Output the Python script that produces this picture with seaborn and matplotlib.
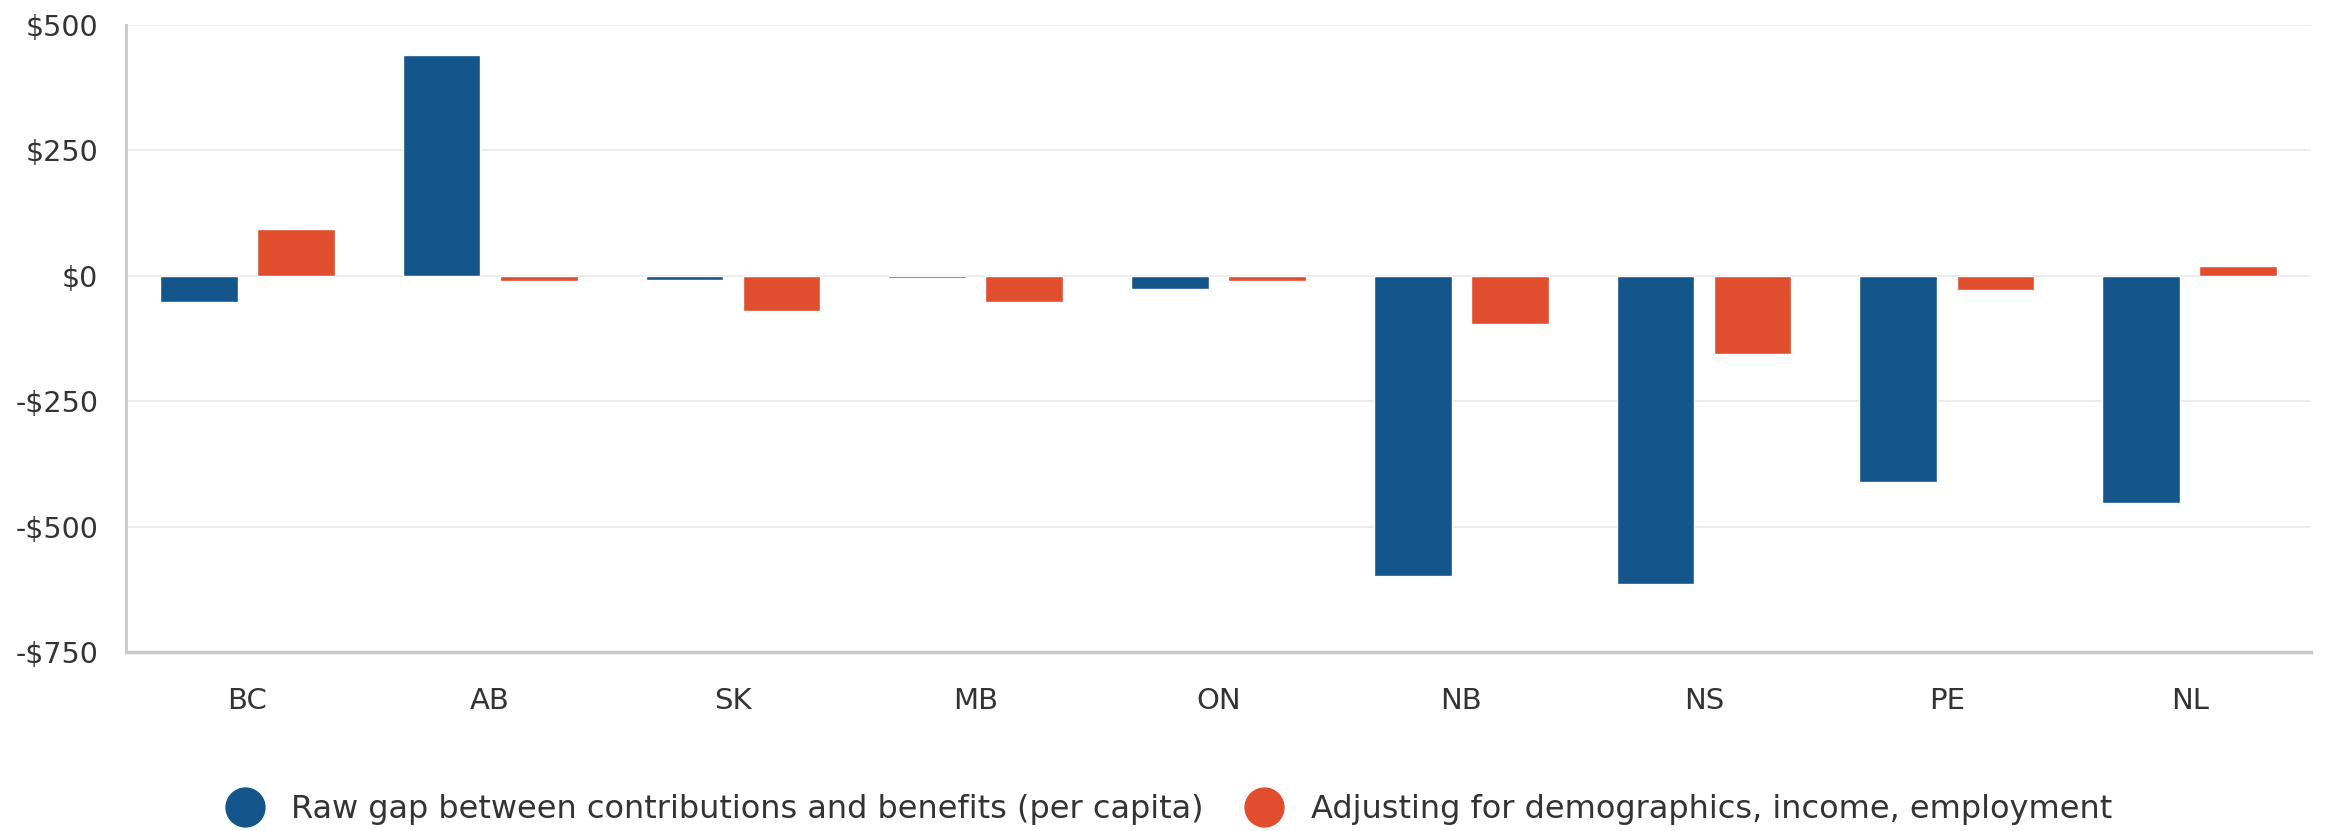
import matplotlib
matplotlib.use("Agg")
import matplotlib.pyplot as plt
from matplotlib.lines import Line2D
import seaborn as sns
import pandas as pd

provinces = ["BC", "AB", "SK", "MB", "ON", "NB", "NS", "PE", "NL"]
raw_gap = [-53, 441, -9, -5, -26, -599, -615, -412, -452]
adjusted_gap = [94, -10, -70, -53, -10, -96, -156, -29, 19]
series_names = [
    "Raw gap between contributions and benefits (per capita)",
    "Adjusting for demographics, income, employment",
]
series_colors = ["#14568B", "#E04E2D"]
y_ticks = [-750, -500, -250, 0, 250, 500]
y_tick_labels = ["-$750", "-$500", "-$250", "$0", "$250", "$500"]

df = pd.DataFrame({
    "province": provinces * 2,
    "value": raw_gap + adjusted_gap,
    "series": [series_names[0]] * len(provinces) + [series_names[1]] * len(provinces),
})

sns.set_theme(style="white")
plt.rcParams["font.family"] = ["DejaVu Sans"]
text_color = "#333333"

fig = plt.figure(figsize=(23.25, 8.31), dpi=100)
ax = fig.add_axes([0.0542, 0.2154, 0.9398, 0.7546])

sns.barplot(
    data=df, x="province", y="value", hue="series",
    hue_order=series_names, order=provinces,
    palette=series_colors, width=0.8, gap=0.2,
    saturation=1, legend=False, ax=ax, zorder=3,
)

ax.set_xlim(-0.5, len(provinces) - 0.5)
ax.set_ylim(-750, 500)
ax.set_yticks(y_ticks)
ax.set_yticklabels(y_tick_labels)
ax.set_xlabel("")
ax.set_ylabel("")

ax.grid(axis="y", color="#ebebeb", linewidth=1.3, zorder=0)
ax.grid(axis="x", visible=False)
for side in ["top", "right"]:
    ax.spines[side].set_visible(False)
ax.spines["left"].set_color("#c8c8c8")
ax.spines["left"].set_linewidth(2)
ax.spines["bottom"].set_color("#c8c8c8")
ax.spines["bottom"].set_linewidth(2.5)

ax.tick_params(axis="y", length=0, pad=20, labelsize=20.5, labelcolor=text_color)
ax.tick_params(axis="x", length=0, pad=25, labelsize=21, labelcolor=text_color)

handles = [
    Line2D([0], [0], marker="o", linestyle="", markersize=28,
           markerfacecolor=c, markeredgecolor=c)
    for c in series_colors
]
fig.legend(
    handles, series_names, loc="center", bbox_to_anchor=(0.5, 0.026),
    ncol=2, frameon=False, fontsize=23, handletextpad=0.45,
    columnspacing=0.9, labelcolor=text_color,
)

fig.savefig("out.png", dpi=100, facecolor="white")
